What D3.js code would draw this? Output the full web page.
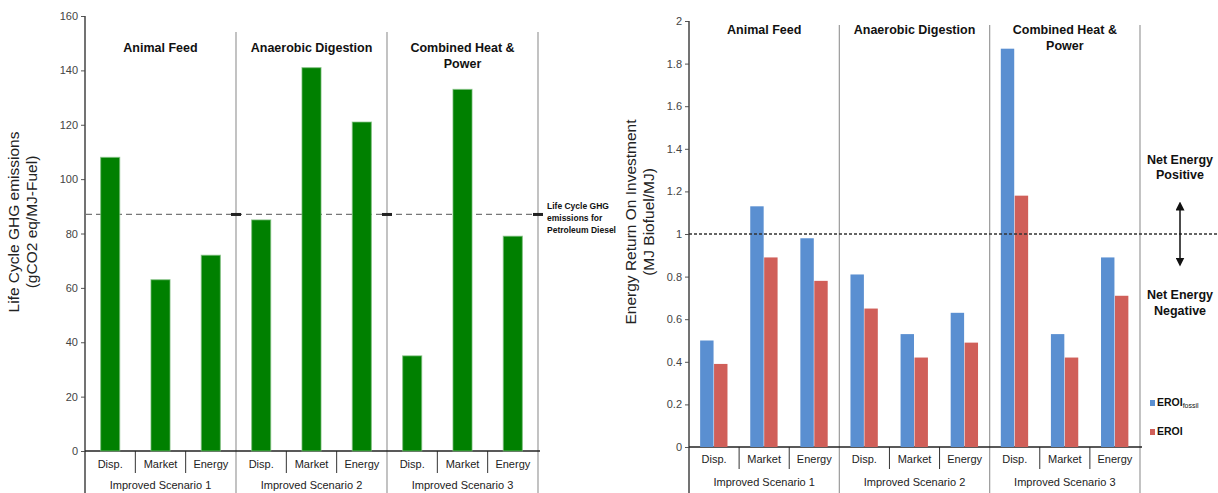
<!DOCTYPE html>
<html>
<head>
<meta charset="utf-8">
<script src="https://cdn.jsdelivr.net/npm/d3@7"></script>
<style>
  body { margin: 0; background: #fff; }
  svg { display: block; font-family: "Liberation Sans", Arial, sans-serif; }
</style>
</head>
<body>
<svg id="main_svg" width="1218" height="493"></svg>
<script>
// ---- data ----
const scenarios = ["Improved Scenario 1", "Improved Scenario 2", "Improved Scenario 3"];
const uses = ["Disp.", "Market", "Energy"];
const groupTitles = [["Animal Feed"], ["Anaerobic Digestion"], ["Combined Heat &", "Power"]];

// left chart: life cycle GHG (gCO2 eq/MJ-Fuel), by scenario then use
const ghg = [108, 63, 72, 85, 141, 121, 35, 133, 79];
const dieselGhg = 87;
const ghgTicks = [0, 20, 40, 60, 80, 100, 120, 140, 160];

// right chart: EROI
const eroiFossil = [0.50, 1.13, 0.98, 0.81, 0.53, 0.63, 1.87, 0.53, 0.89];
const eroi = [0.39, 0.89, 0.78, 0.65, 0.42, 0.49, 1.18, 0.42, 0.71];
const eroiTicks = [0, 0.2, 0.4, 0.6, 0.8, 1, 1.2, 1.4, 1.6, 1.8, 2];

const svg = d3.select("svg");
const keys = [];
scenarios.forEach((s, i) => uses.forEach(u => keys.push(i + "|" + u)));

// draws the shared frame: axis, group separators, titles, bottom labels
function drawFrame(g, o) {
    const x = d3.scaleBand().domain(keys).range([o.left, o.right]);
    const xg = d3.scaleBand().domain(scenarios).range([o.left, o.right]);
    const y = d3.scaleLinear().domain(o.domain).range([o.bottom, o.top]);

    // group separators (full height)
    g.selectAll("line.sep")
        .data(scenarios)
        .join("line")
        .attr("class", "sep")
        .attr("x1", d => xg(d) + xg.bandwidth())
        .attr("x2", d => xg(d) + xg.bandwidth())
        .attr("y1", o.sepTop)
        .attr("y2", 493)
        .attr("stroke", "#9a9a9a")
        .attr("stroke-width", 1.2);

    // small separators between uses under the axis
    g.selectAll("line.subsep")
        .data(keys.filter(k => !k.endsWith("Energy")))
        .join("line")
        .attr("class", "subsep")
        .attr("x1", d => x(d) + x.bandwidth())
        .attr("x2", d => x(d) + x.bandwidth())
        .attr("y1", o.bottom)
        .attr("y2", o.bottom + 22)
        .attr("stroke", "#333");

    // y axis
    const axis = d3.axisLeft(y).tickValues(o.ticks).tickSize(4).tickFormat(o.fmt);
    const ga = g.append("g").attr("transform", `translate(${o.left},0)`).call(axis);
    ga.select(".domain").remove();
    ga.selectAll(".tick line").attr("stroke", "#555");
    ga.selectAll(".tick text")
        .attr("fill", "#444")
        .style("font-size", "11px")
        .style("font-family", "Liberation Sans, Arial, sans-serif");
    g.append("line")
        .attr("x1", o.left).attr("x2", o.left)
        .attr("y1", o.top).attr("y2", 493)
        .attr("stroke", "#444").attr("stroke-width", 1.5);

    // x axis line
    g.append("line")
        .attr("x1", o.left).attr("x2", o.right + 2)
        .attr("y1", o.bottom).attr("y2", o.bottom)
        .attr("stroke", "#222").attr("stroke-width", 1.5);

    // use labels and scenario labels
    g.selectAll("text.use")
        .data(keys)
        .join("text")
        .attr("class", "use")
        .attr("x", d => x(d) + x.bandwidth() / 2)
        .attr("y", o.bottom + o.useDy)
        .attr("text-anchor", "middle")
        .attr("font-size", 11)
        .attr("fill", "#222")
        .text(d => d.split("|")[1]);
    g.selectAll("text.scen")
        .data(scenarios)
        .join("text")
        .attr("class", "scen")
        .attr("x", d => xg(d) + xg.bandwidth() / 2)
        .attr("y", o.bottom + o.scenDy)
        .attr("text-anchor", "middle")
        .attr("font-size", 11)
        .attr("fill", "#222")
        .text(d => d);

    // group headings
    g.selectAll("text.head")
        .data(scenarios)
        .join("text")
        .attr("class", "head")
        .attr("x", d => xg(d) + xg.bandwidth() / 2)
        .attr("y", o.headY)
        .attr("text-anchor", "middle")
        .attr("font-size", 12.5)
        .attr("font-weight", "bold")
        .attr("fill", "#111")
        .selectAll("tspan")
        .data((d, i) => groupTitles[i])
        .join("tspan")
        .attr("x", function () { return this.parentNode.getAttribute("x"); })
        .attr("dy", (d, i) => i ? 16 : 0)
        .text(d => d);

    // y title
    const yt = g.append("text")
        .attr("transform", `translate(${o.titleX},${o.titleY}) rotate(-90)`)
        .attr("text-anchor", "middle")
        .attr("font-size", o.titleSize)
        .attr("fill", "#222");
    o.title.forEach((t, i) => yt.append("tspan").attr("x", 0).attr("dy", i ? 18 : 0).text(t));

    return { x, y, xg };
}

// ---------- left chart ----------
const gl = svg.append("g");
const L = drawFrame(gl, {
    left: 85, right: 538, top: 16, bottom: 451, sepTop: 32,
    domain: [0, 160], ticks: ghgTicks, fmt: d3.format("d"),
    useDy: 17, scenDy: 38, headY: 52,
    titleX: 19, titleY: 222, titleSize: 15.5,
    title: ["Life Cycle GHG emissions", "(gCO2 eq/MJ-Fuel)"]
});
const xl = d3.scaleBand().domain(["v"]).range([0, L.x.bandwidth()]).padding(0.45);

// reference diesel line
gl.append("line")
    .attr("x1", 86).attr("x2", 543)
    .attr("y1", L.y(dieselGhg)).attr("y2", L.y(dieselGhg))
    .attr("stroke", "#777").attr("stroke-width", 1.3)
    .attr("stroke-dasharray", "6,4");

gl.selectAll("rect.bar")
    .data(ghg)
    .join("rect")
    .attr("class", "bar")
    .attr("x", (d, i) => L.x(keys[i]) + xl("v"))
    .attr("width", xl.bandwidth())
    .attr("y", d => L.y(d))
    .attr("height", d => L.y(0) - L.y(d))
    .attr("fill", "#008000")
    .attr("stroke", "#7fc07f")
    .attr("stroke-opacity", 0.6)
    .attr("stroke-width", 1.2);

gl.selectAll("rect.mark")
    .data(scenarios)
    .join("rect")
    .attr("class", "mark")
    .attr("x", d => L.xg(d) + L.xg.bandwidth() - 5)
    .attr("y", L.y(dieselGhg) - 1.5)
    .attr("width", 10).attr("height", 3)
    .attr("fill", "#222");

const note = gl.append("text")
    .attr("x", 547).attr("y", L.y(dieselGhg) - 5)
    .attr("font-size", 8.5).attr("font-weight", "bold").attr("fill", "#111");
["Life Cycle GHG", "emissions for", "Petroleum Diesel"].forEach((t, i) =>
    note.append("tspan").attr("x", 547).attr("dy", i ? 12 : 0).text(t));

// ---------- right chart ----------
const gr = svg.append("g");
const R = drawFrame(gr, {
    left: 689, right: 1140, top: 21, bottom: 447, sepTop: 25,
    domain: [0, 2], ticks: eroiTicks, fmt: d => String(+d.toFixed(1)),
    useDy: 16, scenDy: 39, headY: 34,
    titleX: 636, titleY: 222, titleSize: 15.5,
    title: ["Energy Return On Investment", "(MJ Biofuel/MJ)"]
});
const series = [
    { name: "fossil", values: eroiFossil, color: "#5a8fd1" },
    { name: "eroi", values: eroi, color: "#d05f59" }
];
const xs = d3.scaleBand().domain(series.map(s => s.name)).range([0, R.x.bandwidth()])
    .paddingInner(0).paddingOuter(0.8);

gr.selectAll("g.series")
    .data(series)
    .join("g")
    .attr("class", "series")
    .selectAll("rect")
    .data(s => s.values.map((v, i) => ({ v, i, s })))
    .join("rect")
    .attr("x", d => R.x(keys[d.i]) + xs(d.s.name))
    .attr("width", xs.bandwidth() - 0.5)
    .attr("y", d => R.y(d.v))
    .attr("height", d => R.y(0) - R.y(d.v))
    .attr("fill", d => d.s.color);

// break-even line
gr.append("line")
    .attr("x1", 689).attr("x2", 1218)
    .attr("y1", R.y(1)).attr("y2", R.y(1))
    .attr("stroke", "#333").attr("stroke-width", 1.3)
    .attr("stroke-dasharray", "3,2");

// net energy annotation
const ann = gr.append("g").attr("font-size", 12.5).attr("font-weight", "bold")
    .attr("fill", "#111").attr("text-anchor", "middle");
[["Net Energy", 164], ["Positive", 179], ["Net Energy", 299], ["Negative", 315]].forEach(([t, yy]) =>
    ann.append("text").attr("x", 1180).attr("y", yy).text(t));

const defs = svg.append("defs");
defs.append("marker").attr("id", "ah").attr("viewBox", "0 0 10 10")
    .attr("refX", 5).attr("refY", 5).attr("markerWidth", 6).attr("markerHeight", 6)
    .attr("orient", "auto-start-reverse")
    .append("path").attr("d", "M0,0 L10,5 L0,10 z").attr("fill", "#111");
gr.append("line")
    .attr("x1", 1180).attr("x2", 1180)
    .attr("y1", 206).attr("y2", 262)
    .attr("stroke", "#111").attr("stroke-width", 1.5)
    .attr("marker-start", "url(#ah)").attr("marker-end", "url(#ah)");

// legend
const leg = gr.selectAll("g.leg")
    .data(series)
    .join("g")
    .attr("class", "leg")
    .attr("transform", (d, i) => `translate(1150,${404 + i * 29})`);
leg.append("rect").attr("x", 0).attr("y", -4).attr("width", 5).attr("height", 6)
    .attr("fill", d => d.color);
const lt = leg.append("text").attr("x", 7).attr("y", 2)
    .attr("font-size", 10.5).attr("font-weight", "bold").attr("fill", "#111");
lt.append("tspan").text("EROI");
lt.filter(d => d.name === "fossil").append("tspan")
    .attr("font-size", 7).attr("font-weight", "normal").attr("dy", 2).text("fossil");
</script>
</body>
</html>
